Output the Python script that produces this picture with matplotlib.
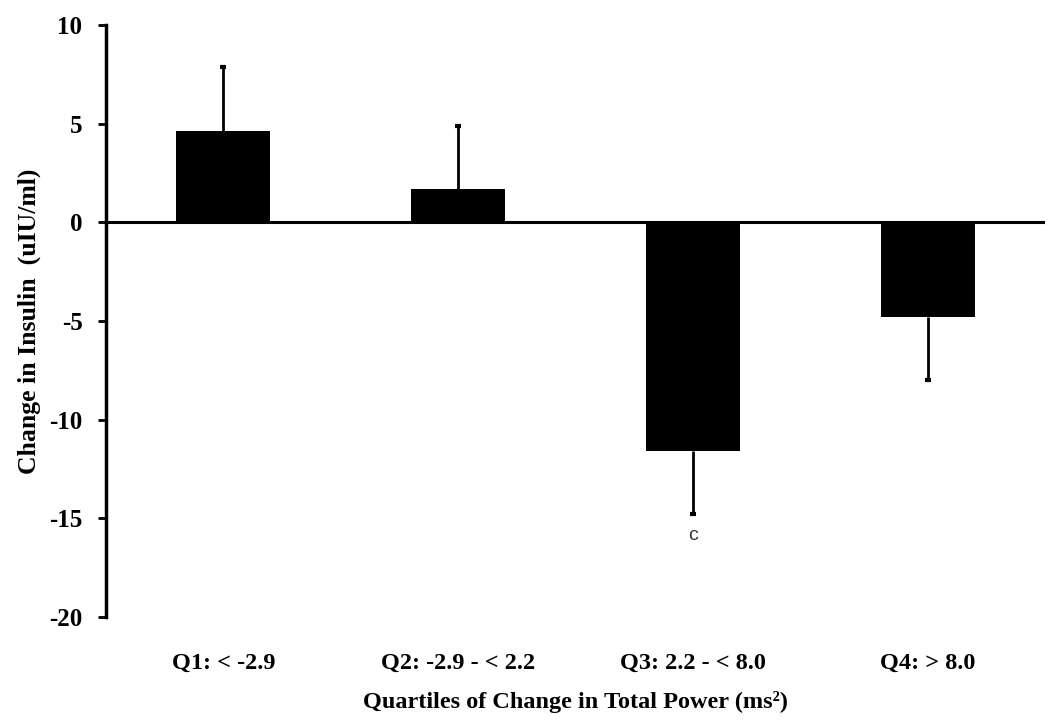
import matplotlib
matplotlib.use("Agg")
import matplotlib.pyplot as plt
import numpy as np

categories = ["Q1: < -2.9", "Q2: -2.9 - < 2.2", "Q3: 2.2 - < 8.0", "Q4: > 8.0"]
means = [4.63, 1.67, -11.58, -4.79]
errors = [3.25, 3.2, 3.22, 3.2]
annotations = ["", "", "c", ""]
yticks = [-20, -15, -10, -5, 0, 5, 10]

plt.rcParams['font.family'] = ['Liberation Serif', 'DejaVu Serif']

fig = plt.figure(figsize=(10.5, 7.22), dpi=100)
ax = fig.add_axes([106/1050, 105/722, 939/1050, 592/722])

x = np.arange(len(categories))
means_a = np.array(means)
errors_a = np.array(errors)
ends = means_a + np.sign(means_a) * errors_a

ax.bar(x, means, width=0.4, color="black", zorder=2)
ax.vlines(x, means_a, ends, color="black", linewidth=2, zorder=1)
ax.plot(x, ends, linestyle="none", marker="_", markersize=5, markeredgewidth=3,
        color="black", zorder=1)
for xi, e_end, a in zip(x, ends, annotations):
    if a:
        ax.text(xi, e_end - 1.05, a, ha="center", va="center",
                fontsize=14, family="Liberation Sans", color="#333333")

ax.axhline(0, color="black", linewidth=2.2, zorder=3)
ax.set_xlim(-0.5, 3.5)
ax.set_ylim(-20, 10)
ax.set_yticks(yticks)
ax.set_yticklabels([str(t) for t in yticks], fontsize=18, fontweight="bold")
ax.set_xticks(x)
ax.set_xticklabels(categories, fontsize=17.5, fontweight="bold")
ax.tick_params(axis="x", length=0, pad=26)
ax.tick_params(axis="y", length=6, width=2, direction="out", pad=11)
for s in ["top", "right", "bottom"]:
    ax.spines[s].set_visible(False)
ax.spines["left"].set_linewidth(2.5)

ax.set_ylabel("Change in Insulin  (uIU/ml)", fontsize=18.5, fontweight="bold", labelpad=6)
ax.set_xlabel("Quartiles of Change in Total Power (ms²)", fontsize=17.5, fontweight="bold", labelpad=12)

fig.savefig("out.png", dpi=100)
